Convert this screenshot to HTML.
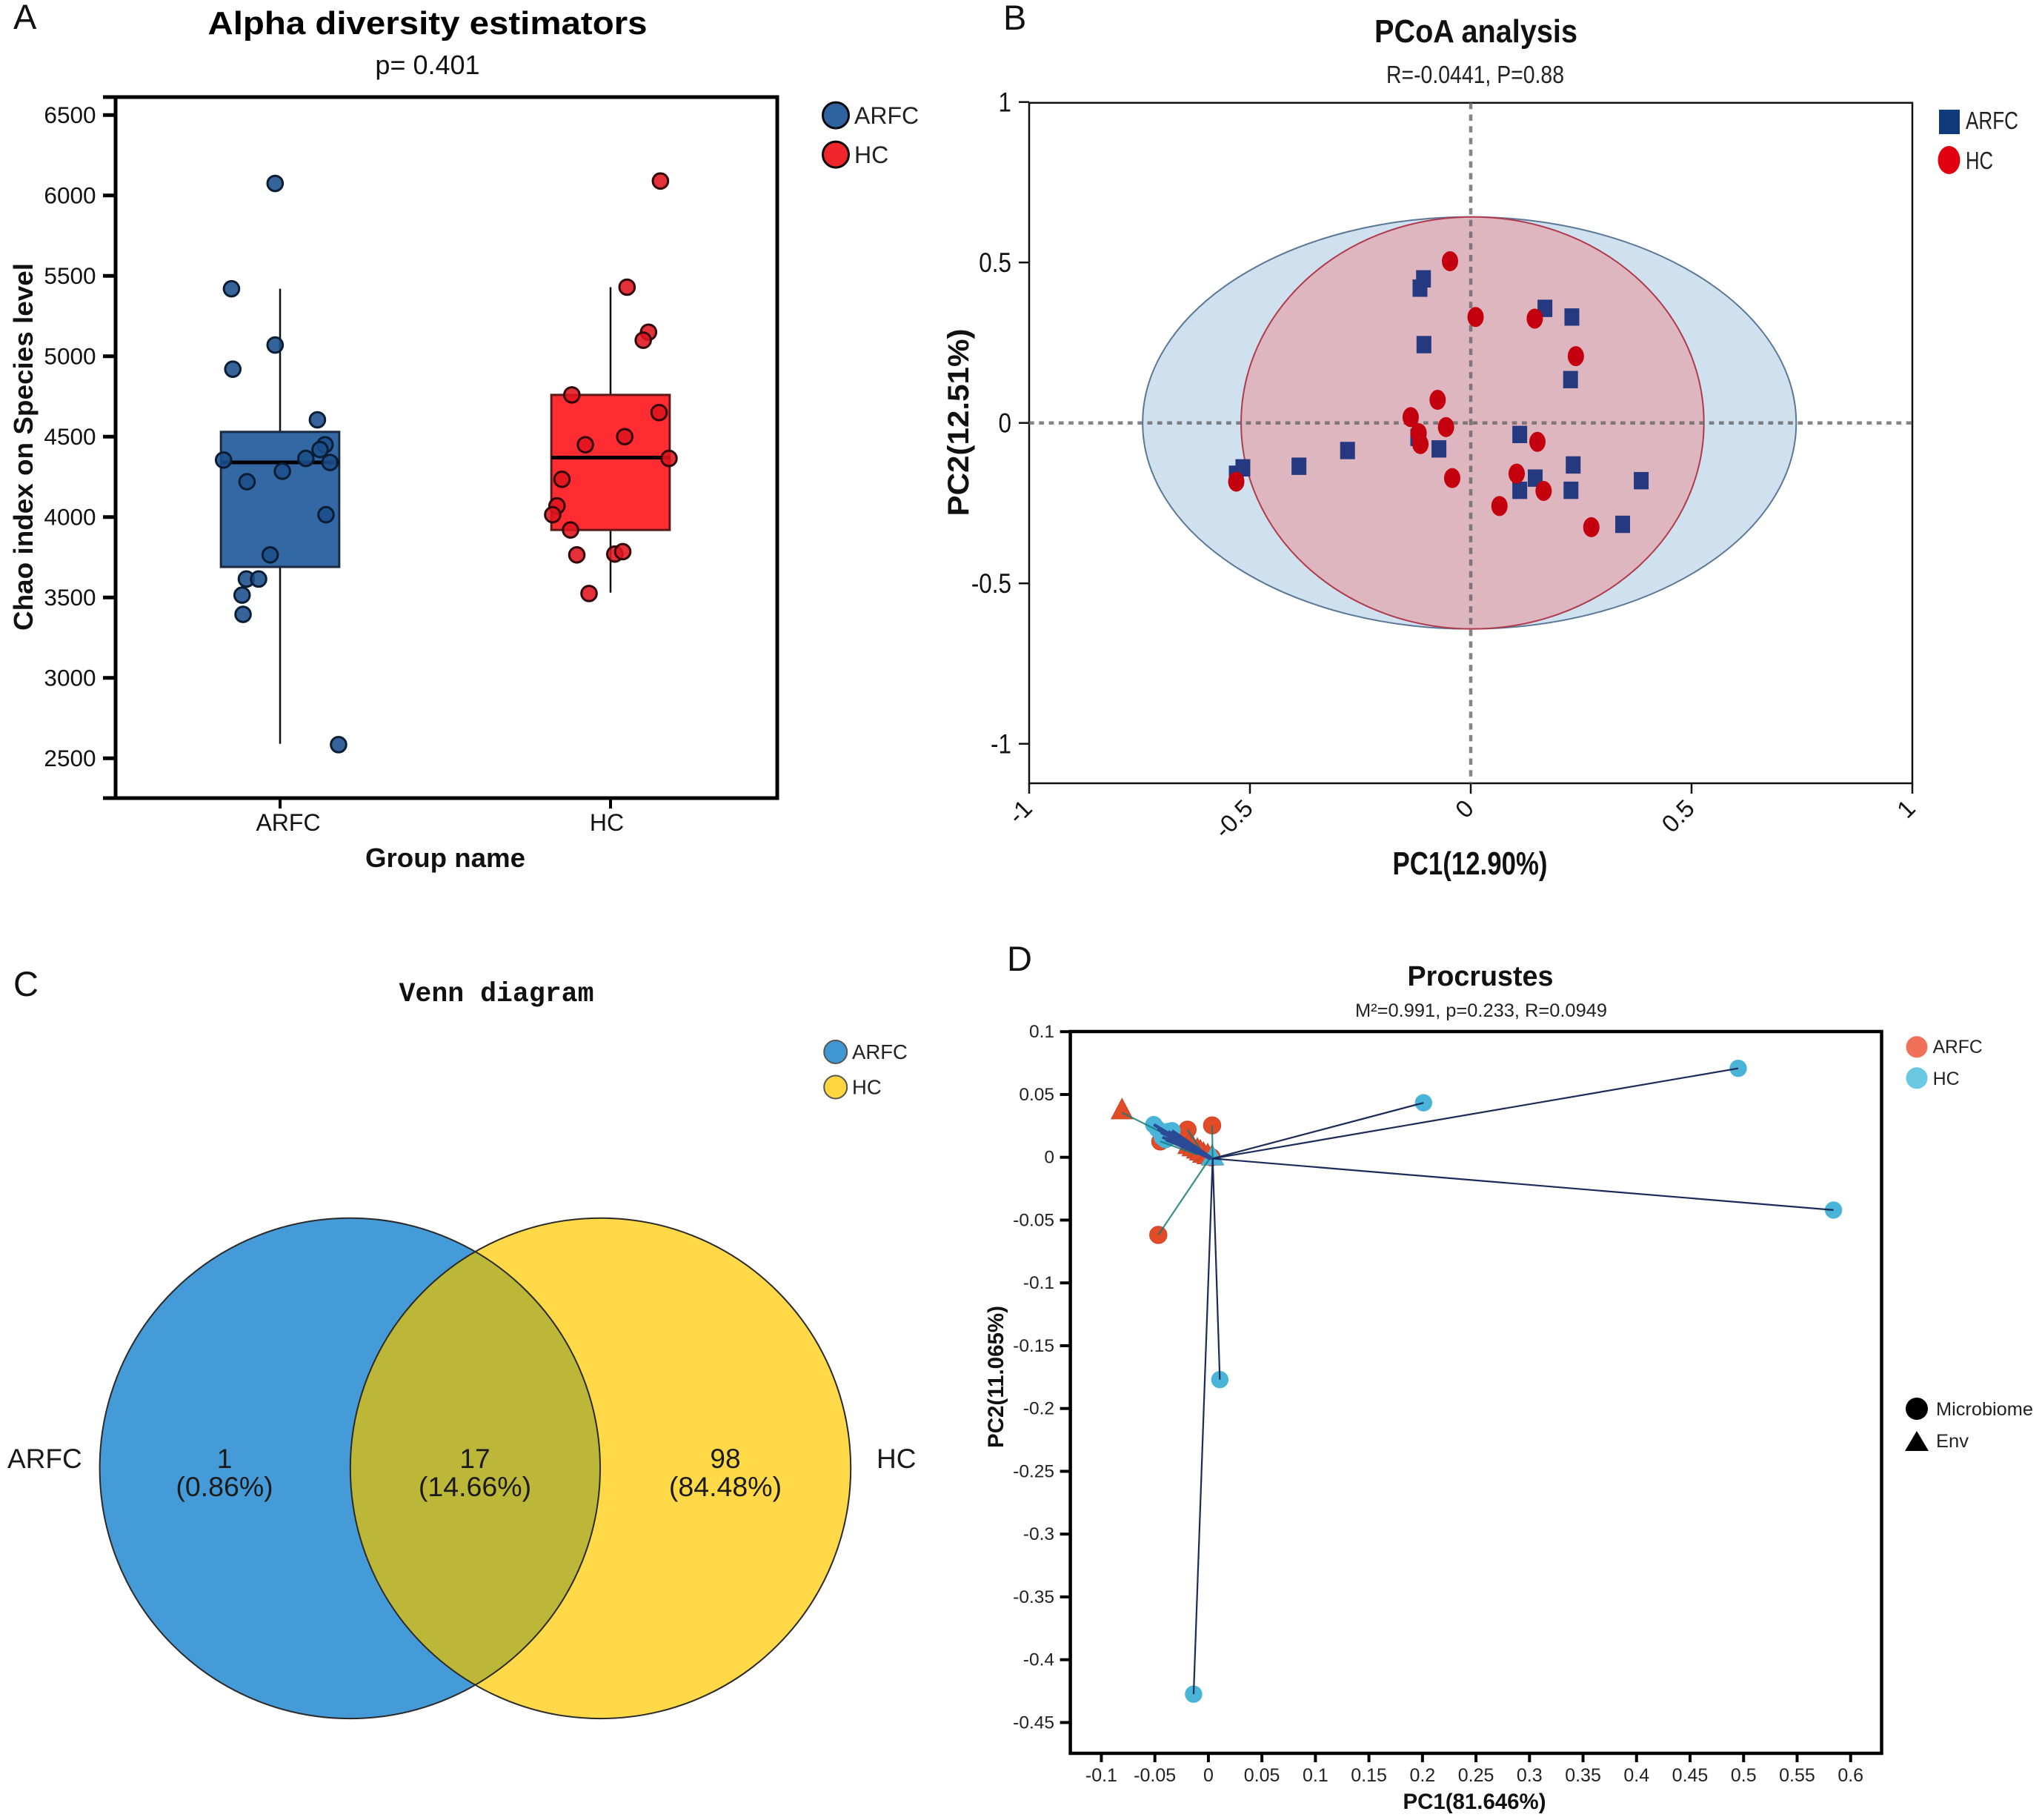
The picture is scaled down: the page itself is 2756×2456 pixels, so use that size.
<!DOCTYPE html>
<html lang="en">
<head>
<meta charset="utf-8">
<title>Four-panel microbiome figure</title>
<style>
html,body{margin:0;padding:0;background:#fff;}
svg{display:block;font-family:"Liberation Sans",sans-serif;}
</style>
</head>
<body>
<svg id="fig" xmlns="http://www.w3.org/2000/svg" width="2756" height="2456" viewBox="0 0 2756 2456">
  <rect x="0" y="0" width="2756" height="2456" fill="#fff"/>
  <g id="panelA">
    <text x="18" y="39" font-size="47" fill="#111">A</text>
    <text x="577" y="46" font-size="44" font-weight="bold" text-anchor="middle" textLength="593" lengthAdjust="spacingAndGlyphs" fill="#000">Alpha diversity estimators</text>
    <text x="577" y="100" font-size="36" text-anchor="middle" fill="#111">p= 0.401</text>
    <text x="601" y="1170" font-size="36.5" font-weight="bold" text-anchor="middle" textLength="216" lengthAdjust="spacingAndGlyphs" fill="#111">Group name</text>
    <text transform="translate(44,603) rotate(-90)" font-size="36" font-weight="bold" text-anchor="middle" textLength="496" lengthAdjust="spacingAndGlyphs" fill="#111">Chao index on Species level</text>
  </g>
  <g id="panelB">
    <text x="1354" y="40" font-size="47" fill="#111">B</text>
    <text x="1992" y="57" font-size="44" font-weight="bold" text-anchor="middle" textLength="274" lengthAdjust="spacingAndGlyphs" fill="#111">PCoA analysis</text>
    <text x="1991" y="112" font-size="33" text-anchor="middle" textLength="240" lengthAdjust="spacingAndGlyphs" fill="#222">R=-0.0441, P=0.88</text>
    <text x="1984" y="1180" font-size="44" font-weight="bold" text-anchor="middle" textLength="209" lengthAdjust="spacingAndGlyphs" fill="#111">PC1(12.90%)</text>
    <text transform="translate(1307,570) rotate(-90)" font-size="40" font-weight="bold" text-anchor="middle" textLength="253" lengthAdjust="spacingAndGlyphs" fill="#111">PC2(12.51%)</text>
  </g>
  <g id="panelC">
    <text x="18" y="1344" font-size="47" fill="#111">C</text>
    <text x="670" y="1351" font-family="'Liberation Mono',monospace" font-size="37" font-weight="bold" text-anchor="middle" textLength="263" lengthAdjust="spacingAndGlyphs" fill="#111">Venn diagram</text>
  </g>
  <g id="panelD">
    <text x="1359" y="1310" font-size="47" fill="#111">D</text>
    <text x="1998" y="1330" font-size="38" font-weight="bold" text-anchor="middle" textLength="197" lengthAdjust="spacingAndGlyphs" fill="#111">Procrustes</text>
    <text x="1999" y="1372" font-size="25" text-anchor="middle" textLength="340" lengthAdjust="spacingAndGlyphs" fill="#222">M²=0.991, p=0.233, R=0.0949</text>
    <text x="1990" y="2441" font-size="30" font-weight="bold" text-anchor="middle" textLength="193" lengthAdjust="spacingAndGlyphs" fill="#111">PC1(81.646%)</text>
    <text transform="translate(1354,1858) rotate(-90)" font-size="30" font-weight="bold" text-anchor="middle" textLength="192" lengthAdjust="spacingAndGlyphs" fill="#111">PC2(11.065%)</text>
  </g>
</svg>
<script>
/* ---------- Panel A data ---------- */
const aGroups = ['ARFC', 'HC'];
const aYTicks = [2500, 3000, 3500, 4000, 4500, 5000, 5500, 6000, 6500];
const aQ1 = [3690, 3920];
const aQ3 = [4530, 4760];
const aMedian = [4340, 4370];
const aWhiskerLow = [2590, 3530];
const aWhiskerHigh = [5420, 5430];
const aArfcJitter = [-0.015, -0.147, -0.015, -0.143, 0.113, 0.136, 0.121, 0.078, -0.171, 0.151, 0.007, -0.100, 0.139, -0.030, -0.102, -0.065, -0.115, -0.112, 0.177];
const aArfcValues = [6075, 5420, 5070, 4920, 4605, 4450, 4420, 4365, 4355, 4340, 4285, 4220, 4015, 3765, 3615, 3615, 3515, 3395, 2585];
const aHcJitter = [0.151, 0.050, 0.115, 0.099, -0.117, 0.147, 0.043, -0.076, 0.177, -0.147, -0.162, -0.175, -0.121, -0.102, 0.013, 0.037, -0.065];
const aHcValues = [6090, 5430, 5150, 5100, 4760, 4650, 4500, 4450, 4365, 4235, 4070, 4015, 3920, 3765, 3770, 3785, 3525];

/* ---------- Panel B data ---------- */
const bTicks = [-1, -0.5, 0, 0.5, 1];
const bArfcX = [-0.107, -0.115, 0.168, 0.229, -0.106, 0.226, 0.111, -0.120, -0.072, -0.279, -0.389, -0.516, -0.531, 0.232, 0.386, 0.146, 0.111, 0.227, 0.344];
const bArfcY = [0.449, 0.420, 0.357, 0.330, 0.244, 0.135, -0.036, -0.045, -0.081, -0.086, -0.135, -0.140, -0.160, -0.131, -0.180, -0.172, -0.210, -0.210, -0.316];
const bHcX = [-0.047, 0.011, 0.145, 0.238, -0.075, -0.136, -0.056, -0.118, -0.114, 0.151, -0.042, 0.104, 0.165, 0.065, 0.273, -0.531];
const bHcY = [0.504, 0.330, 0.325, 0.208, 0.072, 0.018, -0.013, -0.032, -0.066, -0.059, -0.172, -0.158, -0.212, -0.259, -0.325, -0.183];
const bEllipseArfc = [-0.003, 0, 0.740, 0.642];
const bEllipseHc = [0.004, 0, 0.524, 0.642];

/* ---------- Panel C data ---------- */
const cSetNames = ['ARFC', 'HC'];
const cCounts = ['1', '17', '98'];
const cPercents = ['(0.86%)', '(14.66%)', '(84.48%)'];

/* ---------- Panel D data ---------- */
const dXTicks = [-0.1, -0.05, 0, 0.05, 0.1, 0.15, 0.2, 0.25, 0.3, 0.35, 0.4, 0.45, 0.5, 0.55, 0.6];
const dYTicks = [0.1, 0.05, 0, -0.05, -0.1, -0.15, -0.2, -0.25, -0.3, -0.35, -0.4, -0.45];
const dArfcMicroX = [0.0035, -0.0468, -0.0195, -0.0449, 0.003, 0.002, 0.002, 0.002, 0.002, 0.002, 0.002, 0.002];
const dArfcMicroY = [0.0254, -0.0618, 0.022, 0.0126, 0.000, 0.000, 0.000, 0.000, 0.000, 0.000, 0.000, 0.000];
const dArfcEnvX = [0.004, 0.002, -0.004, -0.010, -0.0807, -0.0184, -0.0103, -0.0046, 0.0035, -0.0145, -0.0075, -0.0006];
const dArfcEnvY = [-0.001, 0.000, 0.002, 0.002, 0.0356, 0.0079, 0.0043, 0.0010, -0.0012, 0.0061, 0.0028, -0.0002];
const dHcMicroX = [0.495, 0.201, 0.584, 0.0107, -0.0138, -0.051, -0.034, -0.040, -0.0444, -0.0375, -0.0476, -0.041, -0.0387, -0.043];
const dHcMicroY = [0.0708, 0.0434, -0.042, -0.177, -0.4274, 0.026, 0.0212, 0.014, 0.0199, 0.0206, 0.0226, 0.0189, 0.0148, 0.016];
const dHcEnvX = [0.004, 0.004, 0.004, 0.004, 0.004, 0.003, 0.002, 0.003, 0.001, 0.002, 0.000, 0.001, 0.002, 0.002];
const dHcEnvY = [-0.001, -0.001, -0.001, -0.001, -0.001, -0.001, 0.000, -0.001, 0.000, -0.001, 0.000, -0.001, -0.001, 0.000];

/* ---------- Helpers ---------- */
const NS = 'http://www.w3.org/2000/svg';
function svgEl(parent, tag, props) {
  const e = document.createElementNS(NS, tag);
  for (const k in props) e.setAttribute(k, props[k]);
  parent.appendChild(e);
  return e;
}
function svgText(parent, str, props) {
  const e = svgEl(parent, 'text', props);
  e.textContent = str;
  return e;
}
const panelA = document.getElementById('panelA');
const panelB = document.getElementById('panelB');
const panelC = document.getElementById('panelC');
const panelD = document.getElementById('panelD');

/* ---------- Panel A ---------- */
(function () {
  const L = 156, R = 1049, T = 131, B = 1077;
  const xA = (c) => 378 + 446 * c;
  const yA = (v) => 1023.3 - (v - 2500) * 0.217;
  const boxHalf = 0.179;
  const fills = ['#3368a5', '#ff2d32'];
  const strokes = ['#1a2a42', '#5c1a1c'];

  aGroups.forEach((g, i) => {
    const whisker = svgEl(panelA, 'line', { x1: xA(i), x2: xA(i), y1: yA(aWhiskerLow[i]), y2: yA(aWhiskerHigh[i]), stroke: '#111', 'stroke-width': 2.5 });
    
    
    const box = svgEl(panelA, 'rect', { x: xA(i - boxHalf), width: xA(i + boxHalf) - xA(i - boxHalf), y: yA(aQ3[i]), height: yA(aQ1[i]) - yA(aQ3[i]), fill: fills[i], stroke: strokes[i], 'stroke-width': 3 });
    
    
    const med = svgEl(panelA, 'line', { x1: xA(i - boxHalf), x2: xA(i + boxHalf), y1: yA(aMedian[i]), y2: yA(aMedian[i]), stroke: '#000', 'stroke-width': 5 });
    
    
  });

  aArfcValues.forEach((v, i) => {
    const p = svgEl(panelA, 'circle', { cx: xA(0 + aArfcJitter[i]), cy: yA(v), r: 10.3, fill: '#1a4f8c', 'fill-opacity': 0.88, stroke: '#0a1d34', 'stroke-width': 3 });
    
    
  });
  aHcValues.forEach((v, i) => {
    const p = svgEl(panelA, 'circle', { cx: xA(1 + aHcJitter[i]), cy: yA(v), r: 10.3, fill: '#e0141e', 'fill-opacity': 0.88, stroke: '#300608', 'stroke-width': 3 });
    
    
  });

  const frame = svgEl(panelA, 'path', { d: `M${L} ${T}H${R}V${B}H${L}Z`, fill: 'none', stroke: '#000', 'stroke-width': 5 });
  
  
  const ext = svgEl(panelA, 'path', { d: `M${L - 17} ${T}H${L}M${L - 17} ${B}H${L}`, fill: 'none', stroke: '#000', 'stroke-width': 5 });
  
  

  aYTicks.forEach((t) => {
    const tick = svgEl(panelA, 'line', { x1: L - 17, x2: L, y1: yA(t), y2: yA(t), stroke: '#000', 'stroke-width': 5 });
    
    
    const lab = svgText(panelA, String(t), { x: 129.5, y: yA(t) + 10.5, 'font-size': 31.5, 'text-anchor': 'end', fill: '#111' });
    
    
  });
  const xLabelShift = [11, -5];
  aGroups.forEach((g, i) => {
    const tick = svgEl(panelA, 'line', { x1: xA(i), x2: xA(i), y1: B, y2: B + 14, stroke: '#000', 'stroke-width': 4 });
    
    
    const lab = svgText(panelA, g, { x: xA(i) + xLabelShift[i], y: 1121, 'font-size': 32, 'text-anchor': 'middle', fill: '#111' });
    
    
  });

  const legendFill = ['#2f639f', '#f0262c'];
  const legendY = [155.6, 208.6];
  aGroups.forEach((g, i) => {
    const m = svgEl(panelA, 'circle', { cx: 1128, cy: legendY[i], r: 17.5, fill: legendFill[i], stroke: '#0a0a0a', 'stroke-width': 3 });
    
    
    const lab = svgText(panelA, g, { x: 1153, y: legendY[i] + 11.5, 'font-size': 32, fill: '#222' });
    
    
  });
})();

/* ---------- Panel B ---------- */
(function () {
  const L = 1389, R = 2581, T = 138.7, B = 1057;
  const xB = (v) => 1985 + 596 * v;
  const yB = (v) => 570.7 - 433 * v;

  const eA = svgEl(panelB, 'ellipse', { cx: xB(bEllipseArfc[0]), cy: yB(bEllipseArfc[1]), rx: 596 * bEllipseArfc[2], ry: 433 * bEllipseArfc[3], fill: '#cfe0ee', stroke: '#5b7795', 'stroke-width': 2 });
  
  
  const eH = svgEl(panelB, 'ellipse', { cx: xB(bEllipseHc[0]), cy: yB(bEllipseHc[1]), rx: 596 * bEllipseHc[2], ry: 433 * bEllipseHc[3], fill: '#ddb6c0', stroke: '#b03a4c', 'stroke-width': 2 });
  
  

  const frame = svgEl(panelB, 'path', { d: `M${L} ${T}H${R}V${B}H${L}Z`, fill: 'none', stroke: '#111', 'stroke-width': 2.5 });
  
  

  const v0 = svgEl(panelB, 'line', { x1: xB(0), x2: xB(0), y1: T, y2: B, stroke: '#666', 'stroke-opacity': 0.8, 'stroke-width': 4.5, 'stroke-dasharray': '8.5 7.3' });
  
  
  const h0 = svgEl(panelB, 'line', { x1: L, x2: R, y1: yB(0), y2: yB(0), stroke: '#666', 'stroke-opacity': 0.8, 'stroke-width': 4.5, 'stroke-dasharray': '6.7 6.6' });
  
  

  bArfcX.forEach((x, i) => {
    const p = svgEl(panelB, 'rect', { x: xB(x) - 10, y: yB(bArfcY[i]) - 11.7, width: 20, height: 23.4, fill: '#24397f' });
    
    
  });
  bHcX.forEach((x, i) => {
    const p = svgEl(panelB, 'ellipse', { cx: xB(x), cy: yB(bHcY[i]), rx: 11, ry: 13.5, fill: '#c4000f' });
    
    
  });

  bTicks.forEach((t) => {
    const tick = svgEl(panelB, 'line', { x1: L - 14, x2: L, y1: yB(t), y2: yB(t), stroke: '#111', 'stroke-width': 2.5 });
    
    
    const lab = svgText(panelB, String(t), { transform: `translate(1365,${yB(t) + 13}) scale(0.85,1)`, 'font-size': 37, 'text-anchor': 'end', fill: '#111' });
    
    
    const xt = svgEl(panelB, 'line', { x1: xB(t), x2: xB(t), y1: B, y2: B + 14, stroke: '#111', 'stroke-width': 2.5 });
    
    
    const xl = svgText(panelB, String(t), { transform: `translate(${xB(t) + 6},1093) rotate(-45)`, 'font-size': 33, 'text-anchor': 'end', fill: '#111' });
    
    
  });

  const lgS = svgEl(panelB, 'rect', { x: 2617, y: 148, width: 28, height: 33, fill: '#0f3b7d' });
  
  
  const lgE = svgEl(panelB, 'ellipse', { cx: 2630.5, cy: 216, rx: 15, ry: 19, fill: '#e00010' });
  
  
  const lgT1 = svgText(panelB, 'ARFC', { x: 2653, y: 174, 'font-size': 33, textLength: 71, lengthAdjust: 'spacingAndGlyphs', fill: '#222' });
  
  
  const lgT2 = svgText(panelB, 'HC', { x: 2653, y: 228, 'font-size': 33, textLength: 37, lengthAdjust: 'spacingAndGlyphs', fill: '#222' });
  
  
})();

/* ---------- Panel C ---------- */
(function () {
  const cy = 1981.4, r = 337.7, cxL = 472.3, cxR = 810.5;
  const defs = svgEl(panelC, 'defs', {});
  const clip = svgEl(defs, 'clipPath', { id: 'leftClip' });
  svgEl(clip, 'circle', { cx: cxL, cy: cy, r: r });

  const left = svgEl(panelC, 'circle', { cx: cxL, cy: cy, r: r, fill: '#459bd8' });
  
  
  const right = svgEl(panelC, 'circle', { cx: cxR, cy: cy, r: r, fill: '#ffd947' });
  
  
  const over = svgEl(panelC, 'circle', { cx: cxR, cy: cy, r: r, fill: '#bcb739', 'clip-path': 'url(#leftClip)' });
  
  
  const ol = svgEl(panelC, 'circle', { cx: cxL, cy: cy, r: r, fill: 'none', stroke: '#2a2a2a', 'stroke-width': 2 });
  
  
  const orr = svgEl(panelC, 'circle', { cx: cxR, cy: cy, r: r, fill: 'none', stroke: '#2a2a2a', 'stroke-width': 2 });
  
  

  const regionX = [303, 641, 979];
  cCounts.forEach((c, i) => {
    const t = svgText(panelC, c, { x: regionX[i], y: 1981, 'font-size': 37, 'text-anchor': 'middle', fill: '#1a1a1a' });
    
    
    const p = svgText(panelC, cPercents[i], { x: regionX[i], y: 2019, 'font-size': 37.5, 'text-anchor': 'middle', fill: '#1a1a1a' });
    
    
  });

  const sideX = [10, 1183];
  const legendColor = ['#3f97d4', '#ffd640'];
  const legendY = [1419.5, 1467];
  cSetNames.forEach((n, i) => {
    const s = svgText(panelC, n, { x: sideX[i], y: 1981, 'font-size': 37, fill: '#1a1a1a' });
    
    
    const m = svgEl(panelC, 'circle', { cx: 1127.7, cy: legendY[i], r: 15.5, fill: legendColor[i], stroke: '#555', 'stroke-width': 2 });
    
    
    const l = svgText(panelC, n, { x: 1150, y: legendY[i] + 9.5, 'font-size': 27.5, fill: '#222' });
    
    
  });
})();

/* ---------- Panel D ---------- */
(function () {
  const L = 1444.6, R = 2539.5, T = 1392, B = 2366;
  const xD = (v) => 1630.9 + 1444.7 * v;
  const yD = (v) => 1561.7 - 1695 * v;
  const orange = '#e34a26', cyan = '#4ab4d8';
  const triPts = (x, y, hw, up, down) => `${x - hw},${y + down} ${x + hw},${y + down} ${x},${y - up}`;

  dArfcMicroX.forEach((x, i) => {
    if (i >= 5) return;
    const p = svgEl(panelD, 'circle', { cx: xD(x), cy: yD(dArfcMicroY[i]), r: 11.7, fill: orange, stroke: '#c8432a', 'stroke-width': 1 });
    
    
  });
  dArfcEnvX.forEach((x, i) => {
    if (i < 4) return;
    const p = svgEl(panelD, 'polygon', { points: triPts(xD(x), yD(dArfcEnvY[i]), 14.5, 19, 8.5), fill: orange, stroke: '#c8432a', 'stroke-width': 1 });
    
    
  });
  dHcMicroX.forEach((x, i) => {
    const p = svgEl(panelD, 'circle', { cx: xD(x), cy: yD(dHcMicroY[i]), r: 11.7, fill: cyan });
    
    
  });
  const hubTri = svgEl(panelD, 'polygon', { points: triPts(xD(dHcEnvX[0]), yD(dHcEnvY[0]), 16, 18, 9), fill: cyan });
  
  

  dArfcMicroX.forEach((x, i) => {
    const l = svgEl(panelD, 'line', { x1: xD(x), y1: yD(dArfcMicroY[i]), x2: xD(dArfcEnvX[i]), y2: yD(dArfcEnvY[i]), stroke: '#127b78', 'stroke-width': 2.2, 'stroke-opacity': 0.85 });
    
    
  });
  dHcMicroX.forEach((x, i) => {
    const l = svgEl(panelD, 'line', { x1: xD(x), y1: yD(dHcMicroY[i]), x2: xD(dHcEnvX[i]), y2: yD(dHcEnvY[i]), stroke: i < 5 ? '#1c2a58' : '#2a4a96', 'stroke-width': i < 5 ? 2.2 : 4 });
    
    
  });

  const frame = svgEl(panelD, 'rect', { x: L, y: T, width: R - L, height: B - T, fill: 'none', stroke: '#000', 'stroke-width': 4.5 });
  
  

  dYTicks.forEach((t) => {
    const tick = svgEl(panelD, 'line', { x1: L - 14, x2: L, y1: yD(t), y2: yD(t), stroke: '#000', 'stroke-width': 4 });
    
    
    const lab = svgText(panelD, String(t), { x: 1423, y: yD(t) + 8, 'font-size': 24.5, 'text-anchor': 'end', fill: '#222' });
    
    
  });
  dXTicks.forEach((t) => {
    const tick = svgEl(panelD, 'line', { x1: xD(t), x2: xD(t), y1: B, y2: B + 12, stroke: '#000', 'stroke-width': 4 });
    
    
    const lab = svgText(panelD, String(t), { x: xD(t), y: 2404, 'font-size': 25, 'text-anchor': 'middle', fill: '#222' });
    
    
  });

  const lg1 = svgEl(panelD, 'circle', { cx: 2587, cy: 1412.8, r: 14.5, fill: '#f0705a' });
  
  
  const lg2 = svgEl(panelD, 'circle', { cx: 2587, cy: 1454.8, r: 14.5, fill: '#6ac8e2' });
  
  
  const lg3 = svgEl(panelD, 'circle', { cx: 2587, cy: 1901, r: 15, fill: '#000' });
  
  
  const lg4 = svgEl(panelD, 'polygon', { points: '2571,1958 2603,1958 2587,1931', fill: '#000' });
  
  
  const t1 = svgText(panelD, 'ARFC', { x: 2608.6, y: 1421, 'font-size': 25, textLength: 67, lengthAdjust: 'spacingAndGlyphs', fill: '#222' });
  
  
  const t2 = svgText(panelD, 'HC', { x: 2608.6, y: 1464, 'font-size': 25, textLength: 36, lengthAdjust: 'spacingAndGlyphs', fill: '#222' });
  
  
  const t3 = svgText(panelD, 'Microbiome', { x: 2613, y: 1910, 'font-size': 25, textLength: 131, lengthAdjust: 'spacingAndGlyphs', fill: '#222' });
  
  
  const t4 = svgText(panelD, 'Env', { x: 2613, y: 1953, 'font-size': 25, textLength: 44, lengthAdjust: 'spacingAndGlyphs', fill: '#222' });
  
  
})();
</script>
</body>
</html>
